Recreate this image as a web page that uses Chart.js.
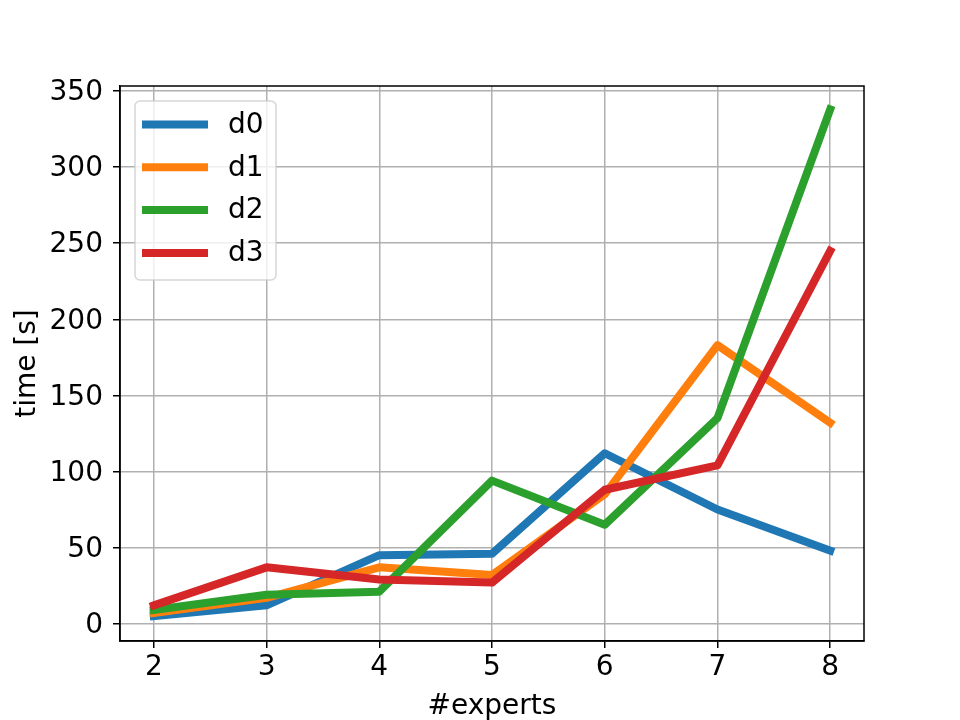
<!DOCTYPE html>
<html>
<head>
<meta charset="utf-8">
<script src="https://cdn.jsdelivr.net/npm/chart.js@4/dist/chart.umd.min.js"></script>
<style>
  body { margin: 0; background: #fff; }
  canvas { display: block; }
</style>
</head>
<body>
<canvas id="chart" width="960" height="720"></canvas>
<script>
// data
var experts = [2, 3, 4, 5, 6, 7, 8];
var d0 = [5, 12, 45, 46, 112, 75, 48];
var d1 = [7, 17, 37, 32, 85, 183, 132];
var d2 = [9, 19, 21, 94, 65, 135, 338];
var d3 = [12, 37, 29, 27, 88, 104, 245];
var seriesNames = ['d0', 'd1', 'd2', 'd3'];
var yTicks = [0, 50, 100, 150, 200, 250, 300, 350];

var colors = ['#1f77b4', '#ff7f0e', '#2ca02c', '#d62728'];
var FONT = 'DejaVu Sans';

function points(vals){
  return experts.map(function(x, i){ return {x: x, y: vals[i]}; });
}

var datasets = [d0, d1, d2, d3].map(function(vals, i){
  return {
    label: seriesNames[i],
    data: points(vals),
    borderColor: colors[i],
    backgroundColor: colors[i],
    borderWidth: 8,
    pointRadius: 0,
    tension: 0,
    borderCapStyle: 'square',
    borderJoinStyle: 'round',
    order: 3 - i   // last series on top, like matplotlib
  };
});

// top and right spines
var framePlugin = {
  id: 'frame',
  afterDatasetsDraw: function(chart){
    var a = chart.chartArea, ctx = chart.ctx;
    ctx.save();
    ctx.strokeStyle = '#000';
    ctx.lineWidth = 1.5;
    ctx.strokeRect(a.left, a.top, a.right - a.left, a.bottom - a.top);
    ctx.restore();
  }
};

// legend box in the upper left, drawn by hand
var legendPlugin = {
  id: 'mplLegend',
  afterDraw: function(chart){
    var ctx = chart.ctx;
    var x = 135, y = 101, w = 141, h = 179, r = 5;
    ctx.save();
    ctx.beginPath();
    ctx.moveTo(x + r, y);
    ctx.arcTo(x + w, y, x + w, y + h, r);
    ctx.arcTo(x + w, y + h, x, y + h, r);
    ctx.arcTo(x, y + h, x, y, r);
    ctx.arcTo(x, y, x + w, y, r);
    ctx.closePath();
    ctx.fillStyle = 'rgba(255,255,255,0.8)';
    ctx.fill();
    ctx.strokeStyle = 'rgba(204,204,204,0.8)';
    ctx.lineWidth = 1.5;
    ctx.stroke();

    ctx.font = '28px "' + FONT + '"';
    ctx.textBaseline = 'middle';
    ctx.textAlign = 'left';
    chart.data.datasets.forEach(function(ds, i){
      var ly = 124.5 + i * 42.8;
      ctx.beginPath();
      ctx.moveTo(142, ly);
      ctx.lineTo(208, ly);
      ctx.strokeStyle = ds.borderColor;
      ctx.lineWidth = 8;
      ctx.lineCap = 'butt';
      ctx.stroke();
      ctx.fillStyle = '#000';
      ctx.fillText(ds.label, 228, ly + 1);
    });
    ctx.restore();
  }
};

new Chart(document.getElementById('chart'), {
  type: 'line',
  data: { datasets: datasets },
  plugins: [framePlugin, legendPlugin],
  options: {
    responsive: false,
    animation: false,
    layout: { padding: { left: 0, top: 86, right: 96, bottom: 0 } },
    plugins: {
      legend: { display: false },
      tooltip: { enabled: false }
    },
    scales: {
      x: {
        type: 'linear',
        min: 1.7,
        max: 8.3,
        afterBuildTicks: function(scale){
          scale.ticks = experts.map(function(v){ return {value: v}; });
        },
        afterFit: function(scale){ scale.height = 79; },
        grid: { color: '#b0b0b0', lineWidth: 1.5, drawTicks: true, tickLength: 7, tickColor: '#000', tickWidth: 1.5 },
        border: { display: true, color: '#000', width: 1.5 },
        ticks: { color: '#000', font: { family: FONT, size: 28 }, padding: 3, maxRotation: 0 },
        title: { display: true, text: '#experts', color: '#000', font: { family: FONT, size: 28 }, padding: { top: 0, bottom: -4 } }
      },
      y: {
        type: 'linear',
        min: -11.4,
        max: 353.3,
        afterBuildTicks: function(scale){
          scale.ticks = yTicks.map(function(v){ return {value: v}; });
        },
        afterFit: function(scale){ scale.width = 120; },
        grid: { color: '#b0b0b0', lineWidth: 1.5, drawTicks: true, tickLength: 7, tickColor: '#000', tickWidth: 1.5 },
        border: { display: true, color: '#000', width: 1.5 },
        ticks: { color: '#000', font: { family: FONT, size: 28 }, padding: 10, labelOffset: 2 },
        title: { display: true, text: 'time [s]', color: '#000', font: { family: FONT, size: 28 }, padding: { top: 11, bottom: 0 } }
      }
    }
  }
});
</script>
</body>
</html>
